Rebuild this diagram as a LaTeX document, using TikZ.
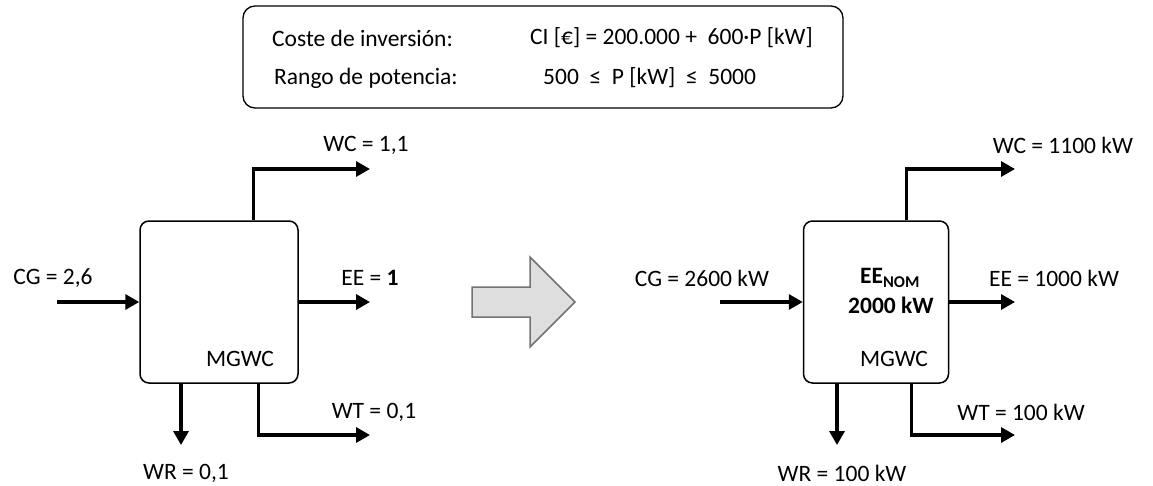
\documentclass[tikz,border=0pt]{standalone}
\usepackage{fontspec}
\setmainfont{Carlito}
\usepackage{tikz}
\usetikzlibrary{
	arrows.meta,
	positioning,
	calc
}
\tikzset{
  % arrow
	cstflow/.style    ={-{Triangle[length=14pt,width=15pt]}, line width=3.3pt}, % flujo
  % node
	cstbox/.style     ={draw=black,fill=white,rounded corners=9pt,line width=1.5pt,minimum width=158pt,minimum height=162pt},
	cstinfo/.style    ={draw=black,fill=white,rounded corners=12pt,line width=1.3pt,minimum width=600pt,minimum height=102pt},
	cstlabel/.style   ={inner sep=0pt,font=\fontsize{23.5}{28}\selectfont},
	cstbold/.style    ={inner sep=0pt,font=\fontsize{23.5}{28}\selectfont\bfseries},
  % big arrow
	cstbig/.style     ={fill=black!13,draw=black!55,line width=1.5pt}
}

\begin{document}
\begin{tikzpicture}[x=1pt,y=-1pt]
	\useasboundingbox (0,0) rectangle (1153,485);
	% costes
	\node[cstinfo] (info) at (543,57) {};
	\node[cstlabel,anchor=west] (ci1) at (272,38) {Coste de inversión:};
	\node[cstlabel,anchor=west] (ci2) at (530,38) {CI [€] = 200.000 +\ \ 600·P [kW]};
	\node[cstlabel,anchor=west] (rp1) at (274,78) {Rango de potencia:};
	\node[cstlabel,anchor=west] (rp2) at (543,78) {500\ \ ≤\ \ P [kW]\ \ ≤\ \ 5000};
	% bloque unitario
	\node[cstbox] (mgwcA) at (219,302) {};
	\node[cstlabel] (nameA) at (240,359) {MGWC};
	\coordinate (cgA) at (57,302);
	\coordinate (eeA) at (370,302);
	\coordinate (wcA) at (370,169);
	\coordinate (wtA) at (370,435);
	\coordinate (wrA) at (181,445);
	\draw[cstflow] (cgA) -- (mgwcA.west);
	\draw[cstflow] (mgwcA.east) -- (eeA);
	\draw[cstflow] ($(mgwcA.north east)+(-45,0)$) |- (wcA);
	\draw[cstflow] ($(mgwcA.south east)+(-40,0)$) |- (wtA);
	\draw[cstflow] (mgwcA.south -| wrA) -- (wrA);
	\node[cstlabel] (lcgA) at (53,278) {CG = 2,6};
	\node[cstlabel] (leeA) at (370,278) {EE = \textbf{1}};
	\node[cstlabel] (lwcA) at (366,145) {WC = 1,1};
	\node[cstlabel] (lwtA) at (374,412) {WT = 0,1};
	\node[cstlabel] (lwrA) at (186,473) {WR = 0,1};
	% flecha
	\draw[cstbig] (472,287) -- (530,287) -- (530,257) -- (575,302)
		-- (530,347) -- (530,317) -- (472,317) -- cycle;
	% bloque nominal
	\node[cstbox,minimum width=145pt] (mgwcB) at (876,302) {};
	\node[cstbold] (eenom) at (890,278) {EE\textsubscript{NOM}};
	\node[cstbold] (pnom) at (891,305) {2000 kW};
	\node[cstlabel] (nameB) at (894,359) {MGWC};
	\coordinate (cgB) at (720,302);
	\coordinate (eeB) at (1015,302);
	\coordinate (wcB) at (1015,169);
	\coordinate (wtB) at (1015,435);
	\coordinate (wrB) at (837,445);
	\draw[cstflow] (cgB) -- (mgwcB.west);
	\draw[cstflow] (mgwcB.east) -- (eeB);
	\draw[cstflow] ($(mgwcB.north east)+(-43,0)$) |- (wcB);
	\draw[cstflow] ($(mgwcB.south east)+(-38,0)$) |- (wtB);
	\draw[cstflow] (mgwcB.south -| wrB) -- (wrB);
	\node[cstlabel] (lcgB) at (702,278) {CG = 2600 kW};
	\node[cstlabel] (leeB) at (1054,278) {EE = 1000 kW};
	\node[cstlabel] (lwcB) at (1063,145) {WC = 1100 kW};
	\node[cstlabel] (lwtB) at (1021,412) {WT = 100 kW};
	\node[cstlabel] (lwrB) at (842,473) {WR = 100 kW};
\end{tikzpicture}
\end{document}
